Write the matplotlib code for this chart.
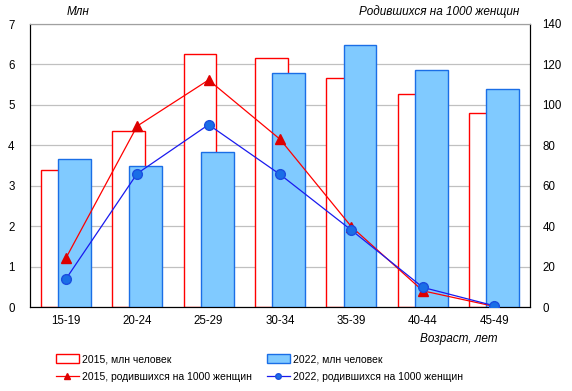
import matplotlib
matplotlib.use("Agg")
import matplotlib.pyplot as plt
import numpy as np
from matplotlib.lines import Line2D
from matplotlib.patches import Patch

plt.rcParams['font.family'] = ['Liberation Sans', 'DejaVu Sans']
plt.rcParams['font.size'] = 7.6

categories = ["15-19", "20-24", "25-29", "30-34", "35-39", "40-44", "45-49"]
women_2015 = [3.38, 4.35, 6.25, 6.15, 5.66, 5.26, 4.81]
women_2022 = [3.67, 3.48, 3.84, 5.78, 6.47, 5.85, 5.38]
rate_2015 = [24.0, 89.5, 112.3, 83.0, 39.7, 8.0, 0.3]
rate_2022 = [13.7, 66.0, 90.2, 65.6, 38.0, 9.7, 0.6]

fig = plt.figure(figsize=(5.72, 3.91), dpi=100)
ax = fig.add_axes([30/572, 1-307/391, 500/572, 283/391])
x = np.arange(len(categories))

ax.set_ylim(0, 7)
ax.set_xlim(-0.5, len(categories) - 0.5)
ax.set_yticks(range(0, 8))
ax.yaxis.grid(True, color='#c0c0c0', linewidth=0.9)
ax.set_axisbelow(True)

ax.bar(x - 0.12, women_2015, width=0.46, facecolor='white', edgecolor='#ff0000', linewidth=1.0, zorder=2)
ax.bar(x + 0.12, women_2022, width=0.46, facecolor='#80caff', edgecolor='#1a6ee6', linewidth=1.0, zorder=3)

ax2 = ax.twinx()
ax2.set_ylim(0, 140)
ax2.set_yticks(range(0, 141, 20))
ax2.plot(x, rate_2015, color='#ff0000', linewidth=0.9, marker='^', markersize=7,
         markerfacecolor='#dd0000', markeredgecolor='#dd0000', zorder=4)
ax2.plot(x, rate_2022, color='#1a1aee', linewidth=0.9, marker='o', markersize=7,
         markerfacecolor='#1a6ee6', markeredgecolor='#1a4ee0', zorder=5)

ax.set_xticks(x)
ax.set_xticklabels(categories)
for a in (ax, ax2):
    a.tick_params(length=0, pad=6, labelsize=8.3)
    a.spines['top'].set_color('#a0a0a0')
    a.spines['left'].set_color('black')
    a.spines['bottom'].set_color('black')
    a.spines['right'].set_color('black')
ax.tick_params(axis='y', pad=11)
ax2.tick_params(axis='y', pad=9)

fig.text(67/572, 1-12/391, "Млн", style='italic', ha='left', va='center', fontsize=8.5)
fig.text(519/572, 1-12/391, "Родившихся на 1000 женщин", style='italic', ha='right', va='center', fontsize=8.5)
fig.text(497/572, 1-339/391, "Возраст, лет", style='italic', ha='right', va='center', fontsize=8.5)

h_2015 = [
    Patch(facecolor='white', edgecolor='#ff0000', linewidth=1.0),
    Line2D([0], [0], color='#ff0000', linewidth=0.9, marker='^', markersize=4,
           markerfacecolor='#dd0000', markeredgecolor='#dd0000'),
]
h_2022 = [
    Patch(facecolor='#80caff', edgecolor='#1a6ee6', linewidth=1.0),
    Line2D([0], [0], color='#1a1aee', linewidth=0.9, marker='o', markersize=4,
           markerfacecolor='#1a6ee6', markeredgecolor='#1a4ee0'),
]
l_2015 = ["2015, млн человек", "2015, родившихся на 1000 женщин"]
l_2022 = ["2022, млн человек", "2022, родившихся на 1000 женщин"]
common = dict(loc='center left', frameon=False, fontsize=7.5, handlelength=2.2,
              handleheight=0.85, handletextpad=0.25, labelspacing=0.75,
              borderpad=0, borderaxespad=0)
leg1 = fig.legend(h_2015, l_2015, bbox_to_anchor=(56/572, 1-368/391), **common)
leg2 = fig.legend(h_2022, l_2022, bbox_to_anchor=(267/572, 1-368/391), **common)

fig.savefig("out.png", dpi=100)
